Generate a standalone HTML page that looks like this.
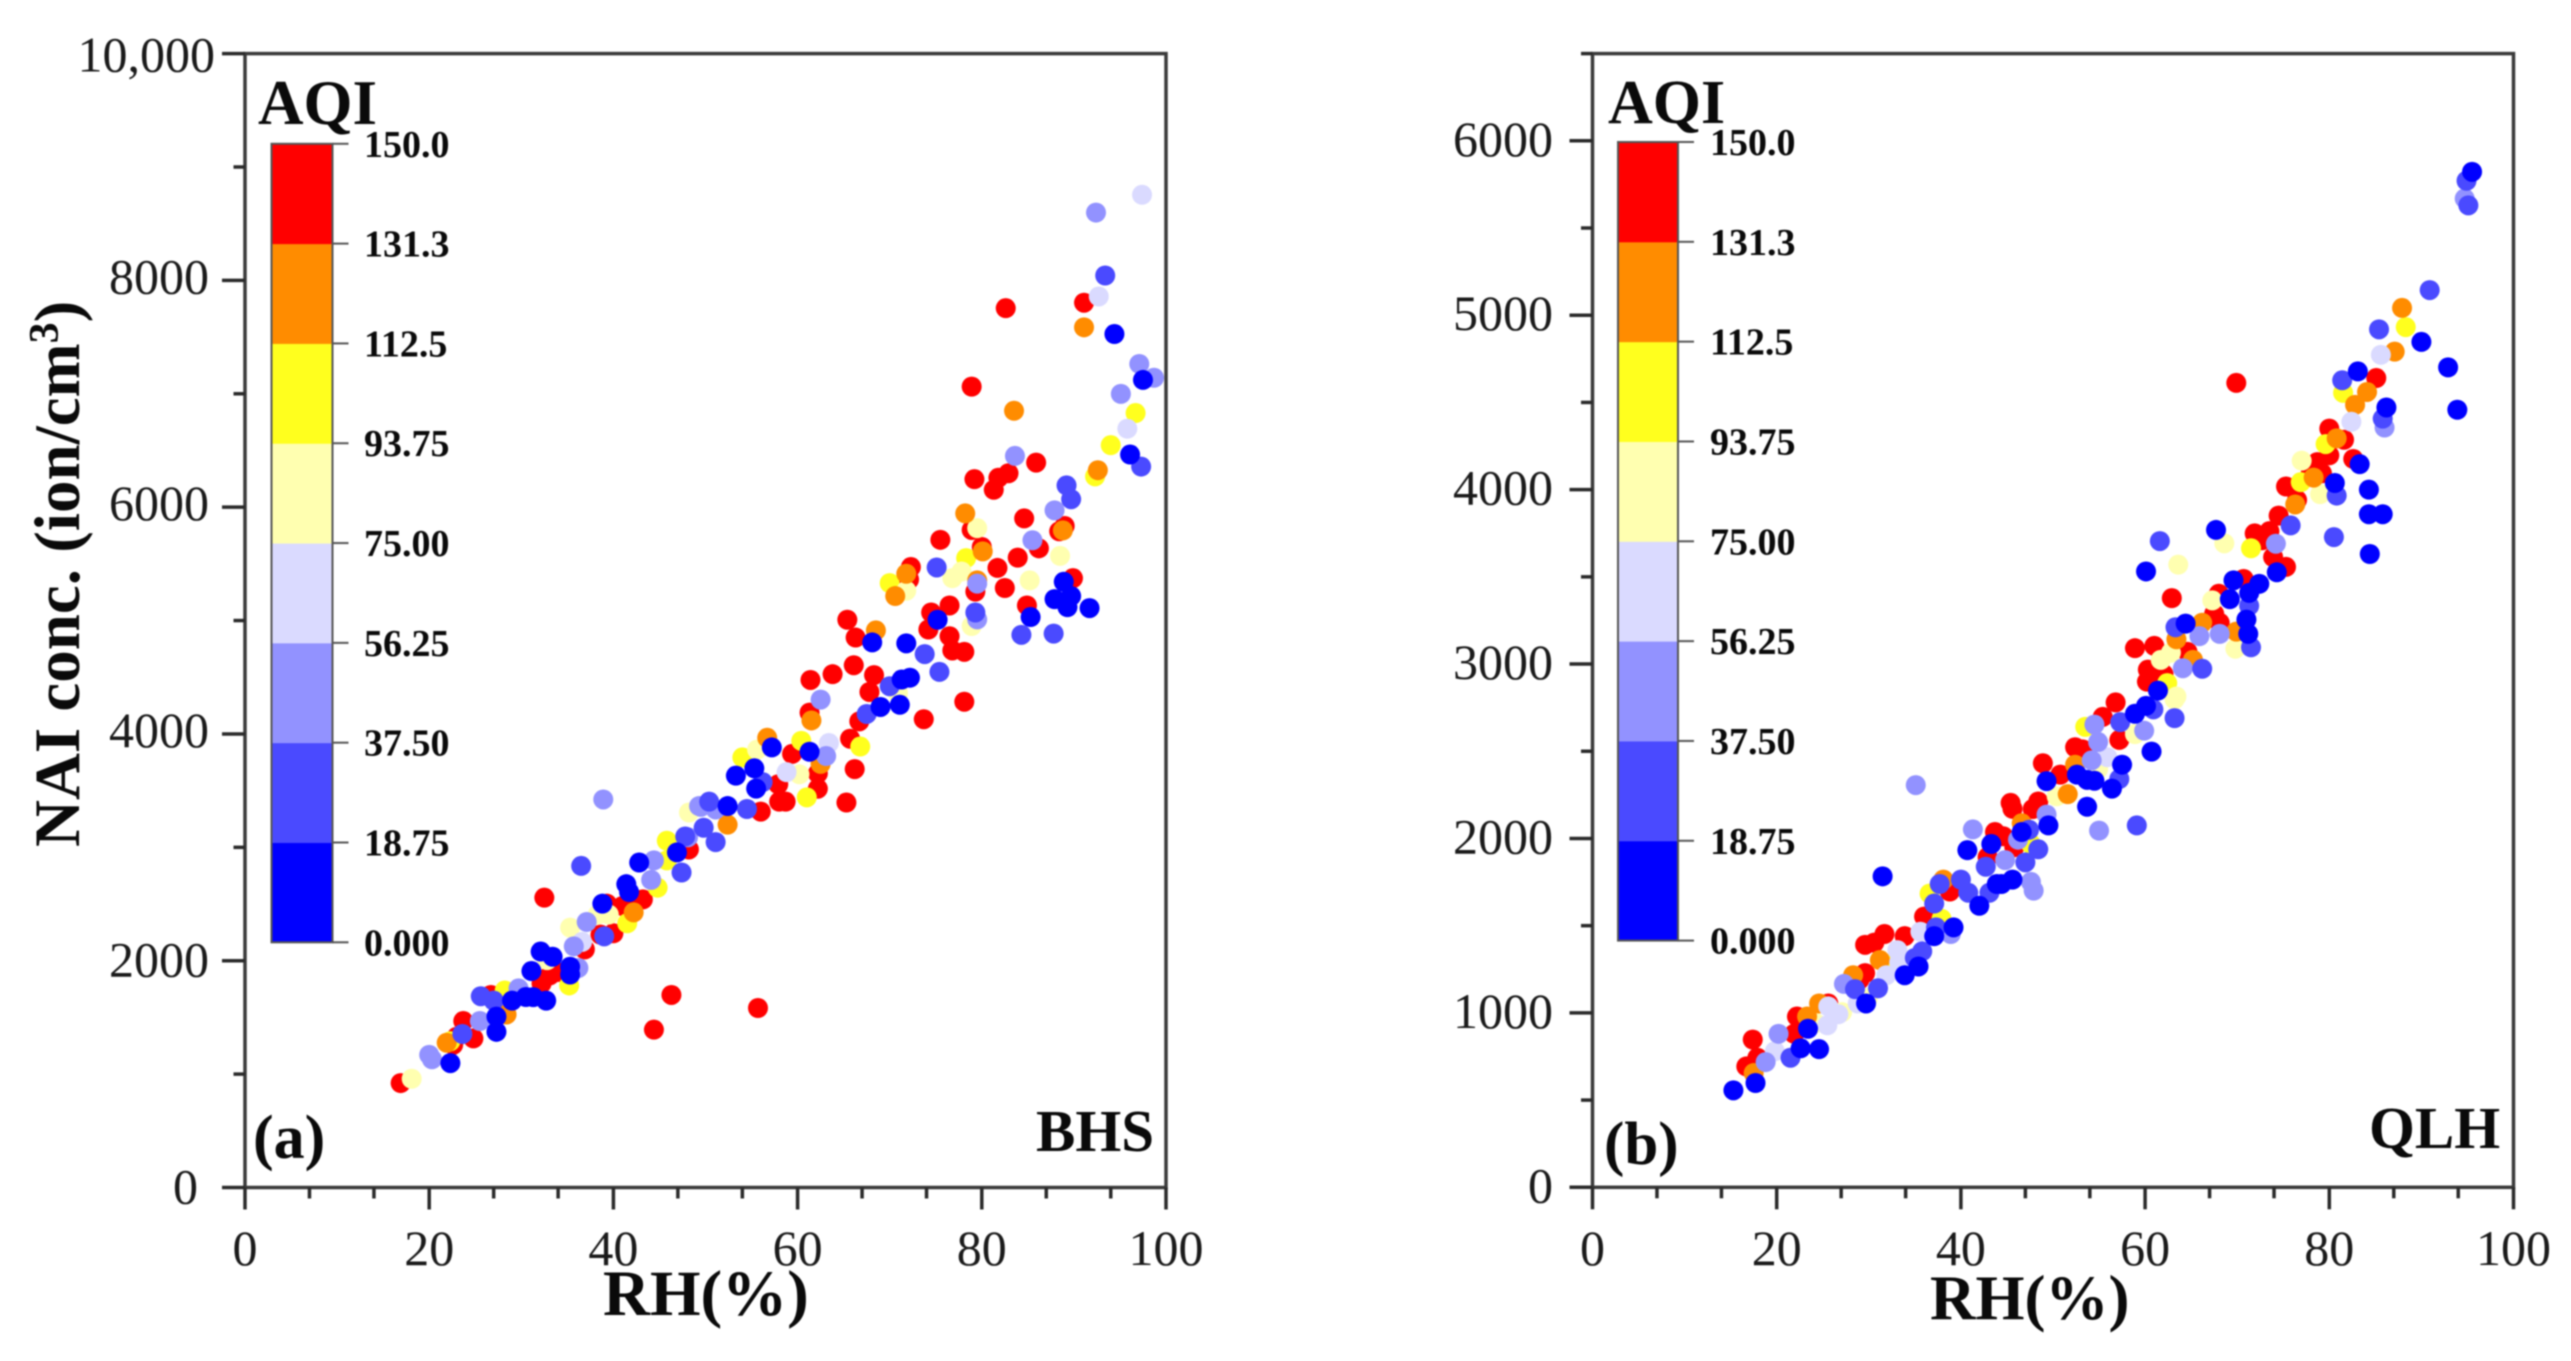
<!DOCTYPE html>
<html lang="en">
<head>
<meta charset="utf-8">
<title>NAI concentration vs RH coloured by AQI</title>
<style>
html,body{margin:0;padding:0;background:#fff;width:2571px;height:1361px;overflow:hidden}
svg{display:block;filter:blur(0.7px)}
text{font-family:"Liberation Serif","Times New Roman",serif;fill:#1a1a1a}
.b{font-weight:bold;fill:#0a0a0a}
</style>
</head>
<body>
<svg id="fig" xmlns="http://www.w3.org/2000/svg" width="2571" height="1361" viewBox="0 0 2571 1361">
<rect width="2571" height="1361" fill="#fff"/>
<g id="panelA"></g>
<g id="panelB"></g>
<text class="b" transform="translate(79,847) rotate(-90)" font-size="65">NAI conc. (ion/cm<tspan dy="-21" font-size="42">3</tspan><tspan dy="21">)</tspan></text>
<text class="b" x="603" y="1315" font-size="65">RH(%)</text>
<text class="b" x="1930" y="1319" font-size="63">RH(%)</text>
<text class="b" x="258" y="124" font-size="63">AQI</text>
<text class="b" x="1608" y="123" font-size="62">AQI</text>
<text class="b" x="253" y="1158" font-size="62">(a)</text>
<text class="b" x="1604" y="1164" font-size="61">(b)</text>
<text class="b" x="1036" y="1151" font-size="59">BHS</text>
<text class="b" x="2369" y="1148" font-size="59">QLH</text>
</svg>
<script>
// ---- shared axis values ----
const rhTicks = [0, 20, 40, 60, 80, 100];
const rhMinorTicks = [7, 14, 27, 34, 47, 54, 67, 74, 87, 94];
const aqiLevels = [0, 18.75, 37.5, 56.25, 75, 93.75, 112.5, 131.25, 150];
const aqiLabels = ['0.000', '18.75', '37.50', '56.25', '75.00', '93.75', '112.5', '131.3', '150.0'];
const aqiColors = ['#0000ff', '#4a4aff', '#9292ff', '#dadaff', '#ffffb0', '#ffff1e', '#ff8c00', '#ff0000'];

// ---- panel (a) BHS axis values ----
const bhsYTicks = [0, 2000, 4000, 6000, 8000, 10000];
const bhsYLabels = ['0', '2000', '4000', '6000', '8000', '10,000'];
const bhsYMinor = [1000, 3000, 5000, 7000, 9000];

// ---- panel (a) BHS: [RH, NAI] per AQI class ----
const bhsRed = [[91.1,7803],[82.6,7755],[78.9,7063],[85.9,6393],[79.2,6247],[82.9,6299],[81.8,6259],[81.3,6153],[84.6,5901],[89,5834],[88.4,5787],[78.9,5799],[86.2,5637],[75.5,5712],[80,5649],[83.9,5555],[81.7,5464],[72.3,5472],[72.1,5362],[79.3,5255],[82.5,5287],[89.9,5374],[84.9,5133],[76.5,5133],[74.5,5071],[74.2,4921],[65.4,5007],[66.3,4850],[76.5,4862],[76.8,4736],[78.1,4724],[66.1,4606],[63.8,4527],[61.4,4476],[68.3,4519],[67.8,4370],[61.3,4188],[66.7,4111],[73.7,4130],[78.1,4284],[65.7,3958],[66.2,3690],[65.3,3395],[57.9,3556],[58.7,3403],[58,3403],[56,3315],[48.2,2981],[43.2,2541],[41.2,2483],[40,2242],[59.4,3824],[62.2,3652],[62.2,3517],[46.3,1698],[44.4,1392],[55.7,1583],[32.5,2556],[16.9,921],[22.6,1258],[24.8,1315],[23.7,1468],[26.7,1698],[33.1,1871],[33.9,1900],[32.2,1800],[36.9,2100],[39.3,2503],[41,2483],[38.6,2230],[23,1330]];
const bhsOrange = [[91.1,7586],[83.5,6850],[92.6,6326],[78.2,5945],[88.8,5795],[80.1,5610],[71.8,5413],[70.6,5216],[79.5,5354],[68.5,4913],[61.5,4119],[56.7,3966],[62.5,3736],[52.4,3200],[42.2,2426],[21.9,1277],[28.4,1526]];
const bhsYellow = [[96.7,6830],[94,6547],[92.3,6271],[78.3,5551],[70,5330],[66.8,3889],[54,3793],[60.4,3939],[61,3441],[45.8,3058],[45.8,2885],[44.8,2644],[41.5,2330],[28.2,1737],[35.2,1782],[22.3,1290]];
const bhsPale = [[79.5,5815],[88.5,5570],[71.8,5263],[76.8,5374],[77.8,5433],[85.2,5354],[78.9,4952],[70.9,4360],[55.6,3862],[48.2,3307],[60.2,3644],[39.5,2407],[18.1,959],[32.8,2005],[35.3,2292],[38.3,2407]];
const bhsLavender = [[97.4,8755],[92.7,7858],[95.8,6692],[63.4,3920],[58.8,3663],[36.6,2166]];
const bhsPeriwinkle = [[92.4,8598],[97.1,7263],[98.7,7141],[95.1,6999],[83.6,6452],[87.9,5972],[85.5,5708],[79.5,5326],[79.5,5010],[62.5,4303],[63.1,3805],[49.5,3357],[51.1,3334],[48.1,3089],[44.4,2885],[44.1,2713],[38.9,3422],[20.3,1131],[20,1170],[25.5,1468],[29.7,1756],[36.2,1936],[35.7,2127],[37.1,2342],[49.3,3364]];
const bhsMidBlue = [[93.4,8043],[97.3,6358],[89.2,6192],[89.7,6070],[75.1,5468],[79.3,5071],[84.3,4874],[87.8,4885],[73.8,4704],[75.4,4547],[70,4421],[67.5,4176],[56.2,3575],[54.5,3338],[50.4,3403],[49.8,3173],[51.1,3046],[47.8,3096],[47.4,2778],[36.5,2836],[39,2215],[23.6,1354],[25.6,1687],[27,1648]];
const bhsDeepBlue = [[94.4,7527],[97.5,7122],[96.1,6464],[88.9,5342],[87.9,5189],[89.7,5216],[89.3,5118],[91.7,5110],[85.3,5031],[75.2,5007],[68.1,4807],[71.8,4799],[72.2,4496],[71.3,4480],[71.1,4257],[69,4238],[57.2,3881],[55.3,3697],[53.3,3632],[55.5,3518],[52.4,3364],[46.9,2955],[42.8,2866],[41.4,2675],[41.7,2606],[38.8,2503],[61.3,3843],[22.3,1097],[27.3,1373],[27.3,1507],[29,1648],[31.3,1679],[32.7,1648],[30.5,1680],[31.1,1909],[32.1,2081],[33.4,2035],[35.3,1947],[35.3,1878]];

// ---- panel (b) QLH axis values ----
const qlhYTicks = [0, 1000, 2000, 3000, 4000, 5000, 6000];
const qlhYLabels = ['0', '1000', '2000', '3000', '4000', '5000', '6000'];
const qlhYMinor = [500, 1500, 2500, 3500, 4500, 5500, 6500];

// ---- panel (b) QLH: [RH, NAI] per AQI class ----
const qlhRed = [[85.1,4640],[69.9,4612],[80,4350],[81.6,4286],[80,4197],[78.7,4158],[82.6,4176],[79.2,4094],[78,4100],[75.3,4018],[76.5,3941],[74.5,3851],[71.9,3749],[73.5,3762],[72.7,3710],[73.9,3613],[75.3,3557],[62.9,3378],[70.7,3488],[68,3403],[67.5,3288],[68.1,3237],[58.9,3091],[61,3104],[64.6,3070],[60.3,2968],[60.2,2899],[62,2942],[56.8,2780],[55.4,2697],[57.2,2565],[52.4,2523],[53.2,2511],[48.9,2431],[50.8,2366],[45.4,2204],[45.6,2170],[48.4,2212],[47.8,2169],[45.8,1950],[44.6,2013],[43.7,2037],[42.9,1893],[38.8,1696],[36,1552],[33.9,1440],[31.7,1452],[29.6,1390],[30.6,1403],[29.6,1228],[29,1191],[25.6,1054],[22.2,979],[21.9,880],[17.4,847],[16.7,693],[17.9,743]];
const qlhOrange = [[87.9,5042],[87.1,4791],[84.1,4560],[82.8,4486],[80.8,4294],[78.3,4069],[76.3,3915],[66.2,3237],[69.9,3186],[63.4,3142],[65.2,3024],[52.4,2423],[51.6,2254],[46.6,2087],[38.1,1764],[31.2,1303],[28.3,1216],[24.6,1054],[23.3,979],[17.5,655]];
const qlhYellow = [[88.3,4932],[81.5,4555],[79.6,4261],[76.9,4043],[71.5,3664],[62.4,2891],[53.5,2640],[47.6,1968],[36.6,1684],[37.9,1539],[32.9,1303]];
const qlhPale = [[77,4166],[79,3974],[68.6,3692],[63.6,3570],[67.3,3365],[69.8,3088],[62.8,3065],[61.7,3024],[63.4,2814],[63.2,2797],[58.9,2598],[54.9,2399],[50.4,2242],[29.9,1086],[27.1,1004],[24.2,942]];
const qlhLavender = [[85.6,4773],[82.4,4389],[55.9,2466],[35.6,1465],[33.1,1360],[33.3,1290],[31.9,1216],[28.8,1054],[25.6,1037],[26.7,992],[25.5,929],[19.8,780]];
const qlhPeriwinkle = [[94.7,5669],[86,4356],[74.2,3690],[68.1,3173],[65.9,3160],[64.1,2976],[59.9,2618],[54.5,2653],[54.9,2553],[54.2,2448],[49.3,2137],[55,2045],[46.2,1993],[44.8,1876],[47.6,1751],[47.9,1701],[35.1,2306],[41.3,2052],[38.9,1452],[27.3,1166],[20.2,880],[18.8,718]];
const qlhMidBlue = [[94.9,5771],[95.1,5630],[90.9,5144],[85.4,4919],[81.4,4627],[85.8,4407],[80.8,3966],[75.8,3795],[80.5,3728],[61.6,3705],[71.3,3334],[63.3,3211],[71.5,3096],[66.2,2973],[63.2,2690],[60.9,2740],[57.3,2667],[57.2,2341],[59.1,2075],[47.4,2050],[48.4,1938],[47,1863],[42.7,1838],[40,1764],[40.8,1689],[43.1,1689],[37.7,1739],[37.1,1627],[37.3,1490],[35.8,1353],[35,1315],[28.5,1136],[31,1141],[21.5,743]];
const qlhDeepBlue = [[95.5,5822],[90,4847],[92.9,4701],[83.1,4678],[93.9,4458],[86.2,4471],[83.3,4146],[80.6,4038],[84.3,4000],[84.3,3859],[85.8,3859],[84.4,3631],[67.7,3769],[60.1,3531],[74.3,3526],[69.6,3480],[72.4,3460],[71.3,3408],[69.2,3372],[71,3255],[64.4,3232],[71.2,3173],[61.4,2848],[58.9,2715],[60.1,2760],[60.7,2498],[57.5,2423],[52.6,2366],[53.7,2336],[54.5,2331],[56.4,2286],[49.3,2329],[53.7,2182],[49.5,2075],[46.6,2037],[45.6,1764],[44.4,1739],[31.5,1783],[40.7,1933],[43.3,1968],[43.9,1739],[42,1614],[39.2,1490],[37.1,1440],[35.4,1266],[33.9,1216],[29.7,1054],[23.4,909],[24.6,792],[22.6,797],[17.7,598],[15.3,556]];

const SVG_NS = 'http://www.w3.org/2000/svg';

function make(parent, tag, attrs, content) {
  const el = document.createElementNS(SVG_NS, tag);
  for (const k in attrs) el.setAttribute(k, attrs[k]);
  if (content !== undefined) el.textContent = content;
  parent.appendChild(el);
  return el;
}

function drawPanel(root, cfg) {
  const xPx = v => cfg.x0 + (v / 100) * (cfg.x1 - cfg.x0);
  const yPx = v => cfg.y0 - (v / cfg.yMax) * (cfg.y0 - cfg.y1);
  const barPx = v => cfg.barBottom - (v / 150) * (cfg.barBottom - cfg.barTop);
  let el;

  // frame
  el = make(root, 'rect', {x: cfg.x0, y: cfg.y1, width: cfg.x1 - cfg.x0, height: cfg.y0 - cfg.y1, fill: 'none', stroke: '#3a3a3a', 'stroke-width': 3.5});
  
  

  // x ticks
  rhTicks.forEach(v => {
    el = make(root, 'line', {x1: xPx(v), x2: xPx(v), y1: cfg.y0, y2: cfg.y0 + 22, stroke: '#2a2a2a', 'stroke-width': 3.5});
    
    
    el = make(root, 'text', {x: xPx(v), y: 1265, 'font-size': 50, 'text-anchor': 'middle'}, String(v));
    
    
  });
  rhMinorTicks.forEach(v => {
    el = make(root, 'line', {x1: xPx(v), x2: xPx(v), y1: cfg.y0, y2: cfg.y0 + 11, stroke: '#2a2a2a', 'stroke-width': 3.5});
    
    
  });

  // y ticks
  cfg.yTicks.forEach((v, i) => {
    const label = cfg.yLabels[i];
    el = make(root, 'line', {x1: cfg.x0 - 23, x2: cfg.x0, y1: yPx(v), y2: yPx(v), stroke: '#2a2a2a', 'stroke-width': 3.5});
    
    
    el = make(root, 'text', {x: cfg.labelEnd(label), y: yPx(v) + cfg.labelDy(label), 'font-size': 50, 'text-anchor': 'end'}, label);
    
    
  });
  cfg.yMinor.forEach(v => {
    el = make(root, 'line', {x1: cfg.x0 - 11.5, x2: cfg.x0, y1: yPx(v), y2: yPx(v), stroke: '#2a2a2a', 'stroke-width': 3.5});
    
    
  });

  // colour bar
  aqiColors.forEach((c, i) => {
    el = make(root, 'rect', {x: cfg.barLeft, y: barPx(aqiLevels[i + 1]), width: cfg.barRight - cfg.barLeft, height: barPx(aqiLevels[i]) - barPx(aqiLevels[i + 1]) + 0.5, fill: c});
    
    
  });
  el = make(root, 'rect', {x: cfg.barLeft, y: barPx(150), width: cfg.barRight - cfg.barLeft, height: barPx(0) - barPx(150), fill: 'none', stroke: '#555', 'stroke-width': 2});
  
  
  aqiLevels.forEach((v, i) => {
    el = make(root, 'line', {x1: cfg.barRight, x2: cfg.barRight + 16, y1: barPx(v), y2: barPx(v), stroke: '#555', 'stroke-width': 2});
    
    
    el = make(root, 'text', {x: cfg.barLabelX, y: barPx(v) + 13, 'font-size': 38, 'font-weight': 'bold', style: 'fill:#0a0a0a'}, aqiLabels[i]);
    
    
  });

  // points: drawn class by class
  cfg.series.forEach(s => {
    s.points.forEach(p => {
      el = make(root, 'circle', {cx: xPx(p[0]), cy: yPx(p[1]), r: 10, fill: aqiColors[s.colorIndex]});
      
      
    });
  });
}

drawPanel(document.getElementById('panelA'), {
  x0: 245, x1: 1166, y0: 1187.5, y1: 53.6, yMax: 10000,
  yTicks: bhsYTicks, yLabels: bhsYLabels, yMinor: bhsYMinor,
  labelEnd: l => l === '10,000' ? 215 : (l === '0' ? 198 : 209),
  labelDy: l => l === '10,000' ? 18 : (l === '0' || l === '2000' ? 16 : 13),
  barLeft: 271.5, barRight: 332.5, barTop: 143.8, barBottom: 942.3, barLabelX: 364,
  series: [
    {points: bhsRed, colorIndex: 7},
    {points: bhsYellow, colorIndex: 5},
    {points: bhsPale, colorIndex: 4},
    {points: bhsOrange, colorIndex: 6},
    {points: bhsLavender, colorIndex: 3},
    {points: bhsPeriwinkle, colorIndex: 2},
    {points: bhsMidBlue, colorIndex: 1},
    {points: bhsDeepBlue, colorIndex: 0}
  ]
});

drawPanel(document.getElementById('panelB'), {
  x0: 1592.5, x1: 2513.5, y0: 1187.3, y1: 53.6, yMax: 6500,
  yTicks: qlhYTicks, yLabels: qlhYLabels, yMinor: qlhYMinor,
  labelEnd: () => 1553,
  labelDy: () => 15,
  barLeft: 1618, barRight: 1678, barTop: 142, barBottom: 940.6, barLabelX: 1710,
  series: [
    {points: qlhRed, colorIndex: 7},
    {points: qlhYellow, colorIndex: 5},
    {points: qlhPale, colorIndex: 4},
    {points: qlhOrange, colorIndex: 6},
    {points: qlhLavender, colorIndex: 3},
    {points: qlhPeriwinkle, colorIndex: 2},
    {points: qlhMidBlue, colorIndex: 1},
    {points: qlhDeepBlue, colorIndex: 0}
  ]
});
</script>
</body>
</html>
